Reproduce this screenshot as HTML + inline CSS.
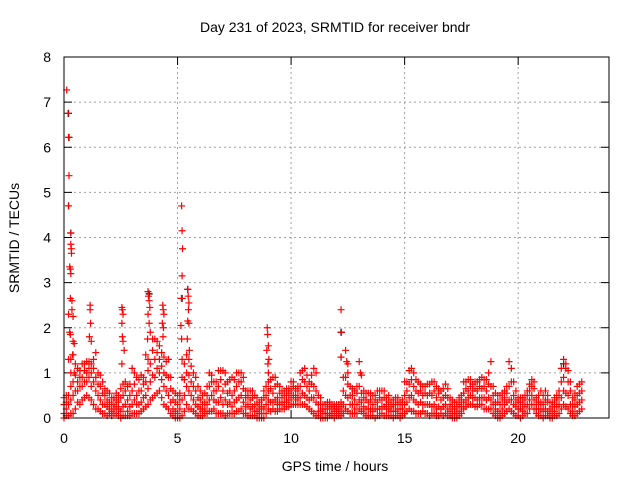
<!DOCTYPE html>
<html><head><meta charset="utf-8"><style>
body{margin:0;background:#fff}
svg{display:block;font-family:"Liberation Sans",sans-serif}
</style></head><body>
<svg id="chart" width="640" height="480" viewBox="0 0 640 480">
<text x="335" y="32" font-size="14" text-anchor="middle">Day 231 of 2023, SRMTID for receiver bndr</text>
<text transform="translate(19,238) rotate(-90)" font-size="14" text-anchor="middle">SRMTID / TECUs</text>
<text x="335" y="471" font-size="14" text-anchor="middle">GPS time / hours</text>
<g id="grid"></g>
<g id="ticks"></g>
<g id="black"></g>
<g id="red"></g>
<rect x="64" y="57" width="545" height="361" fill="none" stroke="#000" stroke-width="1"/>
</svg>
<script>
const xTicks=[0,5,10,15,20];
const yTicks=[0,1,2,3,4,5,6,7,8];
const bandHours=[0.0,0.2,0.4,0.6,0.8,1.0,1.2,1.4,1.6,1.8,2.0,2.2,2.4,2.6,2.8,3.0,3.2,3.4,3.6,3.8,4.0,4.2,4.4,4.6,4.8,5.0,5.2,5.4,5.6,5.8,6.0,6.2,6.4,6.6,6.8,7.0,7.2,7.4,7.6,7.8,8.0,8.2,8.4,8.6,8.8,9.0,9.2,9.4,9.6,9.8,10.0,10.2,10.4,10.6,10.8,11.0,11.2,11.4,11.6,11.8,12.0,12.2,12.4,12.6,12.8,13.0,13.2,13.4,13.6,13.8,14.0,14.2,14.4,14.6,14.8,15.0,15.2,15.4,15.6,15.8,16.0,16.2,16.4,16.6,16.8,17.0,17.2,17.4,17.6,17.8,18.0,18.2,18.4,18.6,18.8,19.0,19.2,19.4,19.6,19.8,20.0,20.2,20.4,20.6,20.8,21.0,21.2,21.4,21.6,21.8,22.0,22.2,22.4,22.6,22.8];
const bandLow=[0.0,0.05,0.1,0.35,0.4,0.5,0.4,0.2,0.15,0.1,0.1,0.1,0.05,0.05,0.05,0.1,0.1,0.15,0.25,0.4,0.5,0.6,0.3,0.2,0.05,0.0,0.05,0.3,0.2,0.1,0.05,0.1,0.15,0.2,0.1,0.1,0.1,0.1,0.15,0.2,0.1,0.05,0.05,0.0,0.0,0.2,0.2,0.15,0.2,0.25,0.3,0.3,0.3,0.3,0.2,0.1,0.05,0.0,0.0,0.05,0.05,0.05,0.2,0.1,0.1,0.2,0.1,0.05,0.05,0.05,0.1,0.05,0.05,0.05,0.0,0.1,0.2,0.15,0.1,0.15,0.1,0.1,0.05,0.1,0.1,0.05,0.0,0.05,0.2,0.3,0.3,0.25,0.3,0.2,0.2,0.05,0.0,0.1,0.2,0.1,0.05,0.05,0.1,0.3,0.1,0.05,0.05,0.0,0.05,0.1,0.3,0.2,0.05,0.1,0.2];
const bandMid1=[0.1,0.3,0.5,0.6,0.7,0.8,0.7,0.6,0.4,0.3,0.2,0.2,0.2,0.25,0.15,0.3,0.3,0.35,0.5,0.8,0.9,1.0,0.7,0.5,0.2,0.1,0.4,0.7,0.5,0.3,0.2,0.2,0.4,0.4,0.35,0.3,0.3,0.25,0.4,0.5,0.25,0.2,0.15,0.1,0.2,0.4,0.35,0.3,0.3,0.35,0.45,0.4,0.45,0.5,0.4,0.45,0.15,0.1,0.1,0.1,0.15,0.15,0.5,0.3,0.2,0.4,0.25,0.2,0.15,0.2,0.25,0.2,0.15,0.15,0.1,0.3,0.45,0.4,0.3,0.3,0.3,0.25,0.2,0.2,0.3,0.15,0.1,0.15,0.35,0.45,0.45,0.4,0.45,0.4,0.4,0.2,0.1,0.3,0.4,0.3,0.2,0.15,0.3,0.5,0.2,0.2,0.2,0.1,0.15,0.3,0.6,0.5,0.15,0.3,0.4];
const bandMid2=[0.3,0.5,0.8,0.8,0.9,1.0,1.0,0.9,0.7,0.5,0.35,0.3,0.35,0.5,0.4,0.6,0.5,0.6,0.8,1.2,1.3,1.3,1.0,0.9,0.4,0.3,0.9,1.0,0.8,0.6,0.4,0.35,0.7,0.6,0.7,0.6,0.55,0.5,0.7,0.8,0.45,0.4,0.3,0.2,0.45,0.6,0.55,0.45,0.45,0.5,0.6,0.5,0.7,0.8,0.6,0.7,0.3,0.2,0.2,0.2,0.2,0.25,0.9,0.5,0.4,0.7,0.45,0.35,0.3,0.35,0.4,0.3,0.25,0.3,0.2,0.5,0.75,0.7,0.55,0.5,0.5,0.5,0.45,0.4,0.5,0.3,0.2,0.3,0.55,0.6,0.6,0.6,0.65,0.6,0.7,0.35,0.3,0.45,0.7,0.5,0.35,0.3,0.5,0.7,0.3,0.35,0.4,0.2,0.3,0.5,0.9,0.8,0.3,0.5,0.6];
const bandHigh=[0.45,1.3,1.4,1.1,1.2,1.25,1.2,1.45,0.95,0.65,0.55,0.45,0.5,0.75,0.7,1.1,0.9,0.95,1.4,1.9,1.75,1.6,1.35,1.3,0.6,0.5,1.3,1.4,1.15,0.9,0.6,0.55,1.0,0.8,1.05,1.05,0.8,0.9,1.0,1.0,0.6,0.6,0.5,0.35,0.6,0.8,0.9,0.75,0.6,0.65,0.8,0.65,1.0,1.1,0.8,1.1,0.5,0.3,0.35,0.3,0.3,0.35,1.5,0.7,0.6,1.25,0.6,0.55,0.5,0.6,0.6,0.45,0.4,0.45,0.35,0.8,1.05,1.0,0.8,0.7,0.75,0.8,0.7,0.6,0.75,0.45,0.35,0.45,0.8,0.85,0.75,0.8,0.9,0.85,1.25,0.55,0.5,0.6,1.25,0.8,0.45,0.45,0.6,0.85,0.45,0.6,0.6,0.35,0.45,0.6,1.3,1.05,0.45,0.7,0.8];
const band2Hours=[0.1,0.3,0.5,0.7,0.9,1.1,1.3,1.5,1.7,1.9,2.1,2.3,2.5,2.7,2.9,3.1,3.3,3.5,3.7,3.9,4.1,4.3,4.5,4.7,4.9,5.1,5.3,5.5,5.7,5.9,6.1,6.3,6.5,6.7,6.9,7.1,7.3,7.5,7.7,7.9,8.1,8.3,8.5,8.7,8.9,9.1,9.3,9.5,9.7,9.9,10.1,10.3,10.5,10.7,10.9,11.1,11.3,11.5,11.7,11.9,12.1,12.3,12.5,12.7,12.9,13.1,13.3,13.5,13.7,13.9,14.1,14.3,14.5,14.7,14.9,15.1,15.3,15.5,15.7,15.9,16.1,16.3,16.5,16.7,16.9,17.1,17.3,17.5,17.7,17.9,18.1,18.3,18.5,18.7,18.9,19.1,19.3,19.5,19.7,19.9,20.1,20.3,20.5,20.7,20.9,21.1,21.3,21.5,21.7,21.9,22.1,22.3,22.5,22.7];
const band2A=[0.05,0.1,0.2,0.3,0.45,0.45,0.3,0.2,0.1,0.05,0.05,0.1,0.0,0.05,0.05,0.1,0.1,0.2,0.3,0.45,0.55,0.45,0.25,0.1,0.0,0.0,0.15,0.2,0.15,0.05,0.05,0.1,0.15,0.1,0.1,0.05,0.1,0.1,0.15,0.1,0.05,0.05,0.0,0.0,0.1,0.15,0.15,0.2,0.2,0.25,0.3,0.3,0.3,0.25,0.15,0.05,0.0,0.0,0.05,0.0,0.05,0.1,0.15,0.1,0.1,0.15,0.05,0.05,0.0,0.05,0.05,0.05,0.0,0.05,0.05,0.15,0.15,0.1,0.1,0.1,0.05,0.1,0.05,0.05,0.05,0.0,0.0,0.1,0.25,0.3,0.25,0.3,0.2,0.2,0.1,0.0,0.05,0.15,0.15,0.05,0.0,0.1,0.2,0.2,0.05,0.0,0.05,0.0,0.05,0.2,0.25,0.1,0.05,0.15];
const band2B=[0.2,0.4,0.6,0.7,0.8,0.9,0.8,0.5,0.3,0.25,0.15,0.25,0.15,0.3,0.25,0.4,0.3,0.45,0.65,0.95,1.1,0.85,0.6,0.35,0.15,0.2,0.5,0.6,0.4,0.25,0.15,0.3,0.5,0.35,0.45,0.4,0.35,0.35,0.45,0.35,0.3,0.25,0.15,0.1,0.3,0.35,0.4,0.35,0.35,0.4,0.5,0.45,0.55,0.45,0.45,0.35,0.15,0.1,0.1,0.15,0.1,0.3,0.45,0.3,0.3,0.35,0.2,0.2,0.2,0.2,0.25,0.2,0.15,0.2,0.2,0.35,0.5,0.35,0.35,0.3,0.3,0.3,0.25,0.25,0.2,0.1,0.1,0.25,0.4,0.5,0.45,0.45,0.45,0.45,0.3,0.15,0.2,0.35,0.4,0.25,0.2,0.25,0.4,0.4,0.2,0.15,0.15,0.1,0.25,0.45,0.55,0.3,0.25,0.35];
const band2C=[0.35,0.7,0.95,0.9,1.05,1.1,1.1,0.75,0.55,0.4,0.3,0.4,0.45,0.6,0.5,0.75,0.6,0.75,1.05,1.5,1.45,1.15,0.95,0.65,0.35,0.4,0.85,0.95,0.7,0.45,0.3,0.5,0.8,0.6,0.85,0.75,0.6,0.6,0.8,0.65,0.5,0.45,0.3,0.25,0.5,0.65,0.7,0.55,0.5,0.55,0.7,0.6,0.85,0.7,0.75,0.6,0.3,0.2,0.25,0.25,0.2,0.6,0.75,0.5,0.55,0.55,0.4,0.4,0.4,0.45,0.45,0.35,0.3,0.35,0.3,0.6,0.85,0.6,0.6,0.55,0.55,0.6,0.55,0.45,0.45,0.25,0.25,0.4,0.65,0.7,0.65,0.7,0.7,0.75,0.5,0.35,0.4,0.55,0.8,0.4,0.35,0.4,0.6,0.65,0.35,0.3,0.35,0.25,0.4,0.8,1.1,0.6,0.4,0.55];
const band2D=[0.5,1.0,1.2,1.05,1.2,1.25,1.3,1.0,0.8,0.6,0.45,0.55,0.65,0.8,0.75,1.0,0.85,0.9,1.3,1.75,1.7,1.45,1.25,0.9,0.55,0.55,1.2,1.3,1.0,0.7,0.5,0.7,0.95,0.8,1.05,1.0,0.85,0.85,1.0,0.9,0.6,0.6,0.45,0.4,0.7,0.85,0.9,0.7,0.6,0.65,0.8,0.7,1.05,0.95,0.95,1.0,0.45,0.3,0.35,0.3,0.3,0.9,1.2,0.65,0.7,0.95,0.55,0.55,0.5,0.6,0.6,0.5,0.4,0.45,0.4,0.8,1.1,0.85,0.75,0.7,0.75,0.8,0.65,0.65,0.65,0.4,0.35,0.5,0.8,0.85,0.8,0.85,0.85,1.0,0.7,0.5,0.55,0.7,1.1,0.6,0.45,0.5,0.75,0.8,0.5,0.5,0.5,0.35,0.5,1.1,1.2,0.8,0.55,0.75];
const spikeHours=[0.12,0.18,0.2,0.22,0.2,0.3,0.3,0.32,0.33,0.25,0.28,0.3,0.28,0.35,0.35,0.4,0.2,0.25,0.28,0.4,0.45,0.38,0.3,0.45,1.15,1.15,1.17,1.12,1.2,2.55,2.57,2.6,2.55,2.57,2.6,2.65,2.55,3.7,3.72,3.75,3.78,3.7,3.75,3.68,4.35,4.37,4.4,4.33,4.38,4.36,5.18,5.2,5.22,5.2,5.17,5.15,5.18,5.45,5.47,5.5,5.48,5.45,5.5,5.43,5.52,8.95,8.97,9.0,8.93,9.02,8.98,9.0,12.2,12.22,12.2,12.45,12.5,13.05];
const spikeVals=[7.27,6.75,6.22,5.37,4.7,4.1,3.85,3.75,3.65,3.35,3.3,3.2,2.65,2.6,2.4,2.25,2.3,1.9,1.85,1.7,1.65,1.4,1.3,1.0,2.5,2.4,2.1,1.8,1.7,2.45,2.4,2.3,2.1,1.8,1.7,1.5,1.2,2.8,2.7,2.6,2.45,2.3,2.1,1.75,2.5,2.4,2.3,2.1,2.0,1.8,4.7,4.15,3.75,3.15,2.65,2.05,1.75,2.85,2.7,2.55,2.4,2.15,2.1,1.75,1.5,2.0,1.85,1.6,1.5,1.3,1.2,1.0,2.4,1.9,1.35,1.25,1.0,1.0];
const blackHours=[0.2,0.22,0.2,0.3,5.45,5.2,12.2,12.2,3.75,22.0];
const blackVals=[6.75,6.22,4.7,4.1,2.85,2.65,1.9,1.35,2.75,1.2];

const X0=64,X1=609,Y0=418,Y1=57,XMAX=24,YMAX=8;
const xs=v=>X0+(X1-X0)*v/XMAX;
const ys=v=>Y0-(Y0-Y1)*v/YMAX;
const NS='http://www.w3.org/2000/svg';
const grid=document.getElementById('grid'),ticks=document.getElementById('ticks');
function mk(tag,attrs,parent){const e=document.createElementNS(NS,tag);for(const k in attrs)e.setAttribute(k,attrs[k]);parent.appendChild(e);return e;}
xTicks.forEach(t=>{
  const x=xs(t);
  if(t>0){const g=mk('line',{x1:x,x2:x,y1:Y1,y2:Y0,stroke:'#a0a0a0','stroke-dasharray':'2,3'},grid);
  
  }
  const a=mk('line',{x1:x,x2:x,y1:Y0,y2:Y0-8,stroke:'#000'},ticks);
  
  
  const b=mk('line',{x1:x,x2:x,y1:Y1,y2:Y1+8,stroke:'#000'},ticks);
  
  
  const l=mk('text',{x:x,y:443,'font-size':14,'text-anchor':'middle'},ticks);
  l.textContent=t;
  
  
});
yTicks.forEach(t=>{
  const y=ys(t);
  if(t>0&&t<8){const g=mk('line',{x1:X0,x2:X1,y1:y,y2:y,stroke:'#a0a0a0','stroke-dasharray':'2,3'},grid);
  
  }
  const a=mk('line',{x1:X0,x2:X0+8,y1:y,y2:y,stroke:'#000'},ticks);
  
  
  const b=mk('line',{x1:X1,x2:X1-8,y1:y,y2:y,stroke:'#000'},ticks);
  
  
  const l=mk('text',{x:51,y:y+5,'font-size':14,'text-anchor':'end'},ticks);
  l.textContent=t;
  
  
});
function cross(parent,h,v,color){
  const x=xs(h),y=ys(v);
  const p=mk('path',{d:`M${x-3.5} ${y}H${x+3.5}M${x} ${y-3.5}V${y+3.5}`,stroke:color,'stroke-width':1.2,fill:'none'},parent);
  
  
}
const red=document.getElementById('red'),black=document.getElementById('black');
blackHours.forEach((h,i)=>cross(black,h,blackVals[i],'#000'));
[bandLow,bandMid1,bandMid2,bandHigh].forEach(arr=>bandHours.forEach((h,i)=>cross(red,h,arr[i],'#f00')));
[band2A,band2B,band2C,band2D].forEach(arr=>band2Hours.forEach((h,i)=>cross(red,h,arr[i],'#f00')));
spikeHours.forEach((h,i)=>cross(red,h,spikeVals[i],'#f00'));
</script>
</body></html>
